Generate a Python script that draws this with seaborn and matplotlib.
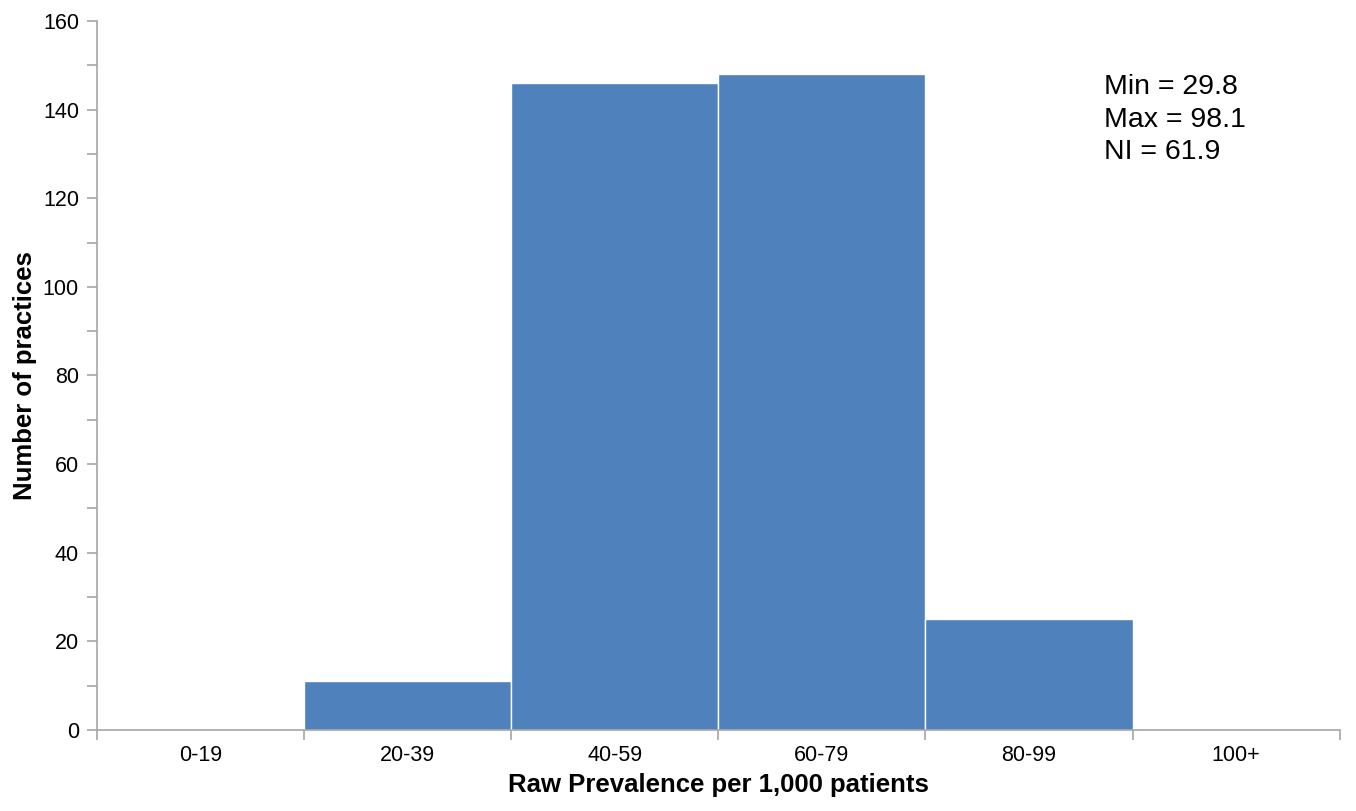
import matplotlib
matplotlib.use("Agg")
import matplotlib.pyplot as plt
import seaborn as sns
import pandas as pd
import numpy as np
from matplotlib.ticker import MultipleLocator, FixedLocator

##### データ
categories = ['0-19', '20-39', '40-59', '60-79', '80-99', '100+']
practices = [0, 11, 146, 148, 25, 0]
stats_text = ['Min = 29.8', 'Max = 98.1', 'NI = 61.9']

df = pd.DataFrame({'Band': categories, 'Practices': practices})

sns.set_style('white')
plt.rcParams['font.family'] = ['Liberation Sans', 'DejaVu Sans']
plt.rcParams['text.color'] = 'black'
plt.rcParams['axes.labelcolor'] = 'black'
plt.rcParams['xtick.color'] = 'black'
plt.rcParams['ytick.color'] = 'black'

fig = plt.figure(figsize=(13.56, 8.11), dpi=100)
ax = fig.add_axes([0.0715, 0.0999, 0.9165, 0.8742])

sns.barplot(data=df, x='Band', y='Practices', color='#4F81BD', saturation=1,
            width=1.0, edgecolor='white', linewidth=1, ax=ax)

##### 軸の設定
ax.set_xlim(-0.5, len(categories) - 0.5)
ax.set_ylim(0, 160)
ax.yaxis.set_major_locator(MultipleLocator(20))
ax.yaxis.set_minor_locator(MultipleLocator(10))
ax.xaxis.set_minor_locator(FixedLocator(np.arange(-0.5, len(categories), 1.0)))

for s in ['top', 'right']:
    ax.spines[s].set_visible(False)
for s in ['left', 'bottom']:
    ax.spines[s].set_color('#A6A6A6')
    ax.spines[s].set_linewidth(1.2)

ax.tick_params(axis='y', which='both', left=True, length=7, width=1.2, color='#A6A6A6')
ax.tick_params(axis='y', which='major', labelsize=15.5, pad=6, labelcolor='black')
ax.tick_params(axis='x', which='major', bottom=True, length=0, labelsize=15.5, pad=11, labelcolor='black')
ax.tick_params(axis='x', which='minor', bottom=True, length=7, width=1.2, color='#A6A6A6')

ax.set_xlabel('Raw Prevalence per 1,000 patients', fontsize=18.5, fontweight='bold', labelpad=5)
ax.set_ylabel('Number of practices', fontsize=18.5, fontweight='bold', labelpad=4)

##### 統計値のテキスト
ax.text(0.81, 0.925, '\n'.join(stats_text), transform=ax.transAxes,
        fontsize=20.5, va='top', ha='left', linespacing=1.33)

fig.savefig('out.png', dpi=100)
